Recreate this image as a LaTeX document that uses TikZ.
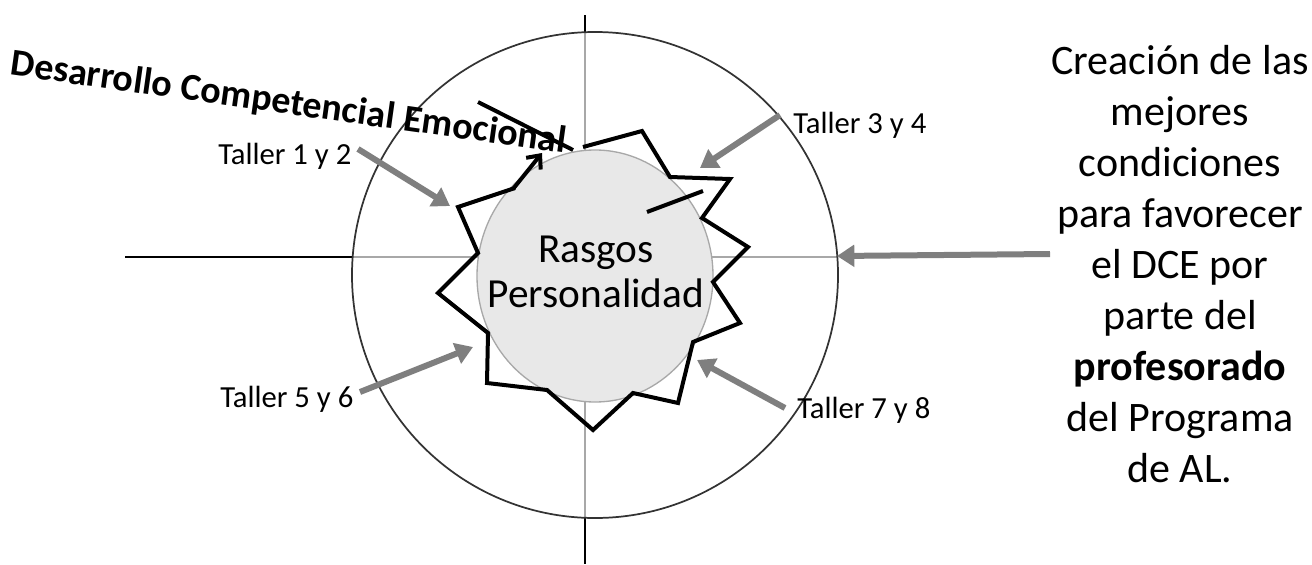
\documentclass[tikz,border=0pt]{standalone}
\usepackage{fontspec}
\setmainfont{Carlito}
\usepackage{xcolor}
\usetikzlibrary{arrows.meta, shapes.geometric}
\definecolor{flechagris}{HTML}{7F7F7F}
\definecolor{ejegris}{HTML}{A8A8A8}
\definecolor{rasgosfondo}{HTML}{E8E8E8}

\begin{document}
\begin{tikzpicture}[
    x=0.75pt, y=-0.75pt,
    taller/.style={anchor=base west, inner sep=0pt, font=\fontsize{23}{27}\selectfont},
    flecha/.style={draw=flechagris, line width=4.5pt, -{Triangle[length=13pt,width=16pt]}},
    eje/.style={line width=1.2pt},
    zigzag/.style={line width=3pt, line join=miter},
  ]
    \useasboundingbox (0,0) rectangle (1312,564);

    % ejes: negros fuera del círculo, grises dentro
    \coordinate (ejeW)  at (125,257);
    \coordinate (ejeWc) at (353,257);
    \coordinate (ejeEc) at (838,257);
    \coordinate (ejeN)  at (585,15);
    \coordinate (ejeNc) at (585,32);
    \coordinate (ejeSc) at (585,518);
    \coordinate (ejeS)  at (585,564);
    \draw[eje] (ejeW) -- (ejeWc);
    \draw[eje] (ejeN) -- (ejeNc);
    \draw[eje] (ejeSc) -- (ejeS);
    \draw[eje, ejegris] (ejeWc) -- (ejeEc);
    \draw[eje, ejegris] (ejeNc) -- (ejeSc);

    % círculo exterior
    \draw[line width=1.3pt, black!80] (595,275) circle [radius=243];

    % núcleo
    \node[ellipse, draw=ejegris, fill=rasgosfondo, line width=1pt, inner sep=0pt,
          minimum width=236*0.75pt, minimum height=252*0.75pt] (nucleo) at (595,276) {};
    \node[align=center, inner sep=0pt, font=\fontsize{31}{34}\selectfont] (rasgos)
        at (596,272) {Rasgos\\Personalidad};

    % línea quebrada del desarrollo
    \coordinate (zzFin) at (542,153);
    \draw[zigzag] (583,147) -- (642,131) -- (670,177) -- (730,179) -- (702,218)
        -- (748,247) -- (713,282) -- (740,323) -- (693,342) -- (678,403)
        -- (633,393) -- (593,430) -- (547,390) -- (487,383) -- (488,333)
        -- (438,293) -- (478,253) -- (458,207) -- (515,188);
    \draw[zigzag, -{Straight Barb[length=8pt,width=14pt]}] (513,189) -- (zzFin);
    \coordinate (cortaA) at (647,212);
    \coordinate (cortaB) at (703,191);
    \draw[zigzag] (cortaA) -- (cortaB);

    % título inclinado
    \node[anchor=base, inner sep=0pt, rotate=-8,
          font=\fontsize{28.5}{30}\selectfont\bfseries] (dce) at (287,114)
        {Desarrollo Competencial Emocional};
    \coordinate (dceA) at (478,102);
    \coordinate (dceB) at (573,150);
    \draw[zigzag] (dceA) -- (dceB);

    % talleres
    \node[taller] (t12) at (218,164) {Taller 1 y 2};
    \node[taller] (t34) at (793,133) {Taller 3 y 4};
    \node[taller] (t56) at (220,407) {Taller 5 y 6};
    \node[taller] (t78) at (797,418) {Taller 7 y 8};

    \coordinate (t12a) at (358,149);  \coordinate (t12b) at (450,206);
    \coordinate (t34a) at (780,115);  \coordinate (t34b) at (700,168);
    \coordinate (t56a) at (360,392);  \coordinate (t56b) at (473,347);
    \coordinate (t78a) at (785,408);  \coordinate (t78b) at (697,360);
    \draw[flecha] (t12a) -- (t12b);
    \draw[flecha] (t34a) -- (t34b);
    \draw[flecha] (t56a) -- (t56b);
    \draw[flecha] (t78a) -- (t78b);

    % condiciones
    \node[align=center, inner sep=0pt, font=\fontsize{31.5}{38.2}\selectfont] (cond)
        at (1180,264) {Creación de las\\mejores\\condiciones\\para favorecer\\el DCE por\\parte del\\
        \textbf{profesorado}\\del Programa\\de AL.};
    \coordinate (condA) at (1050,254);
    \coordinate (condB) at (837,256);
    \draw[flecha] (condA) -- (condB);
  \end{tikzpicture}
\end{document}
